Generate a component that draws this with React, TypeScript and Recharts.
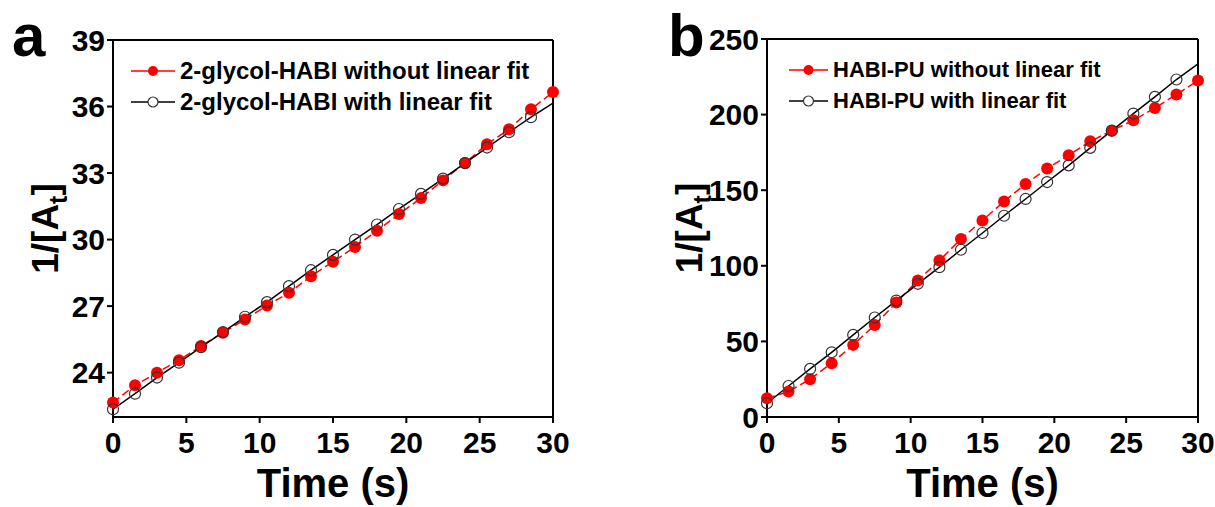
import { LineChart, Line, XAxis, YAxis, Label, ReferenceLine } from "recharts"

const FONT = "'Liberation Sans', Arial, Helvetica, sans-serif"
const RED = "#ff0000"

// sampling times (s)
const time = [0, 1.5, 3, 4.5, 6, 7.5, 9, 10.5, 12, 13.5, 15, 16.5, 18, 19.5, 21, 22.5, 24, 25.5, 27, 28.5, 30]

// panel a: 2-glycol-HABI
const rawA = [22.65, 23.43, 24.0, 24.56, 25.2, 25.8, 26.4, 27.03, 27.6, 28.35, 29.0, 29.67, 30.4, 31.15, 31.87, 32.67, 33.45, 34.3, 34.98, 35.88, 36.65]
const fitA = [22.35, 23.05, 23.78, 24.45, 25.15, 25.83, 26.52, 27.18, 27.9, 28.62, 29.31, 30.0, 30.68, 31.38, 32.06, 32.75, 33.45, 34.15, 34.84, 35.52, 36.15]

// panel b: HABI-PU
const rawB = [12.4, 16.8, 25.0, 35.6, 47.7, 60.9, 75.7, 90.3, 103.5, 117.7, 130.0, 142.6, 154.1, 164.3, 173.1, 182.3, 189.4, 196.2, 204.4, 213.3, 222.5]
const fitB = [9.1, 20.5, 31.8, 42.8, 54.3, 65.8, 77.0, 88.1, 99.1, 110.6, 121.7, 133.1, 144.2, 155.4, 166.4, 178.0, 189.4, 200.7, 211.7, 223.2, 233.6]

const xTicks = [0, 5, 10, 15, 20, 25, 30]
const yTicksA = [24, 27, 30, 33, 36, 39]
const yTicksB = [0, 50, 100, 150, 200, 250]

const namesA = ["2-glycol-HABI without linear fit", "2-glycol-HABI with linear fit"]
const namesB = ["HABI-PU without linear fit", "HABI-PU with linear fit"]

const build = (raw: number[], fit: number[]) => time.map((t, i) => ({ t, raw: raw[i], fit: fit[i] }))

const tickStyle = { fill: "#000", fontSize: 30, fontWeight: "bold", fontFamily: FONT }
const lineStyle = { stroke: "#000", strokeWidth: 2 }

const redDot = (p: any) => (
  <circle key={`r${p.index}`} cx={p.cx} cy={p.cy} r={6} fill={RED} stroke="none" />
)

// the fit line runs to 30 s but has no marker there
const fitDot = (last: number) => (p: any) =>
  p.index === last ? (
    <g key={`f${p.index}`} />
  ) : (
    <circle key={`f${p.index}`} cx={p.cx} cy={p.cy} r={5.5} fill="none" stroke="#333" strokeWidth={1.2} />
  )

const YTitle = (props: any) => {
  const vb = props.viewBox || {}
  const cx = vb.x
  const cy = vb.y + vb.height / 2
  return (
    <text
      x={cx}
      y={cy}
      transform={`rotate(-90 ${cx} ${cy})`}
      textAnchor="middle"
      fontFamily={FONT}
      fontWeight="bold"
      fontSize={37}
      fill="#000"
    >
      1/[A
      <tspan dy={9} fontSize={25}>t</tspan>
      <tspan dy={-9}>]</tspan>
    </text>
  )
}

const XTitle = (props: any) => {
  const vb = props.viewBox || {}
  return (
    <text
      x={vb.x + vb.width / 2}
      y={vb.y + 80}
      textAnchor="middle"
      fontFamily={FONT}
      fontWeight="bold"
      fontSize={40}
      fill="#000"
    >
      Time (s)
    </text>
  )
}

function SeriesLegend({ names, iconW, fontSize, left, top }: any) {
  return (
    <div style={{ position: "absolute", left, top, fontFamily: FONT, fontWeight: "bold", fontSize, color: "#000" }}>
      {names.map((n: string, i: number) => (
        <div key={n} style={{ display: "flex", alignItems: "center", height: 30.5 }}>
          <svg width={iconW} height={14} style={{ display: "block" }}>
            <line x1={0} y1={7} x2={iconW} y2={7} stroke={i === 0 ? RED : "#000"} strokeWidth={1.5} />
            {i === 0 ? (
              <circle cx={iconW / 2} cy={7} r={5} fill={RED} />
            ) : (
              <circle cx={iconW / 2} cy={7} r={5} fill="#fff" stroke="#333" strokeWidth={1.2} />
            )}
          </svg>
          <span style={{ marginLeft: 5, whiteSpace: "nowrap", lineHeight: 1 }}>{n}</span>
        </div>
      ))}
    </div>
  )
}

interface PanelProps {
  left: number
  width: number
  yWidth: number
  margin: { top: number; right: number; left: number; bottom: number }
  raw: number[]
  fit: number[]
  yDomain: [number, number]
  yTicks: number[]
  names: string[]
  legendPos: { left: number; top: number }
  iconW: number
  legendFont: number
  letter: string
  letterLeft: number
}

function Panel(p: PanelProps) {
  const data = build(p.raw, p.fit)
  return (
    <div style={{ position: "absolute", left: p.left, top: 0, width: p.width, height: 507 }}>
      <LineChart width={p.width} height={507} data={data} margin={p.margin}>
        <XAxis
          xAxisId="b"
          dataKey="t"
          type="number"
          domain={[0, 30]}
          ticks={xTicks}
          height={60}
          tick={tickStyle}
          tickSize={6}
          tickMargin={9}
          axisLine={lineStyle}
          tickLine={lineStyle}
        >
          <Label content={XTitle} />
        </XAxis>
        <YAxis
          yAxisId="l"
          type="number"
          domain={p.yDomain}
          ticks={p.yTicks}
          width={p.yWidth}
          tick={tickStyle}
          tickSize={6}
          tickMargin={2}
          axisLine={lineStyle}
          tickLine={lineStyle}
        >
          <Label content={YTitle} />
        </YAxis>
        {/* closing frame on top and right */}
        <ReferenceLine xAxisId="b" yAxisId="l" y={p.yDomain[1]} stroke="#000" strokeWidth={2} />
        <ReferenceLine xAxisId="b" yAxisId="l" x={30} stroke="#000" strokeWidth={2} />
        <Line
          xAxisId="b"
          yAxisId="l"
          dataKey="raw"
          name={p.names[0]}
          stroke={RED}
          strokeWidth={1.5}
          strokeDasharray="8 4"
          dot={redDot}
          activeDot={false}
          isAnimationActive={false}
        />
        <Line
          xAxisId="b"
          yAxisId="l"
          dataKey="fit"
          name={p.names[1]}
          stroke="#000"
          strokeWidth={1.5}
          dot={fitDot(data.length - 1)}
          activeDot={false}
          isAnimationActive={false}
        />
      </LineChart>
      <SeriesLegend names={p.names} iconW={p.iconW} fontSize={p.legendFont} left={p.legendPos.left} top={p.legendPos.top} />
      <svg width={130} height={70} style={{ position: "absolute", left: 0, top: 0 }}>
        <text x={p.letterLeft} y={56} fontFamily={FONT} fontWeight="bold" fontSize={60} fill="#000">
          {p.letter}
        </text>
      </svg>
    </div>
  )
}

export default function App() {
  return (
    <div style={{ position: "absolute", left: 0, top: 0, width: 1215, height: 507, background: "#fff", overflow: "hidden" }}>
      <Panel
        left={0}
        width={600}
        yWidth={55}
        margin={{ top: 40, right: 47, left: 58, bottom: 30 }}
        raw={rawA}
        fit={fitA}
        yDomain={[22, 39]}
        yTicks={yTicksA}
        names={namesA}
        legendPos={{ left: 131, top: 56 }}
        iconW={44}
        legendFont={24}
        letter="a"
        letterLeft={12}
      />
      <Panel
        left={600}
        width={615}
        yWidth={65}
        margin={{ top: 39, right: 17, left: 102, bottom: 30 }}
        raw={rawB}
        fit={fitB}
        yDomain={[0, 250]}
        yTicks={yTicksB}
        names={namesB}
        legendPos={{ left: 189, top: 55 }}
        iconW={39}
        legendFont={22}
        letter="b"
        letterLeft={68}
      />
    </div>
  )
}
